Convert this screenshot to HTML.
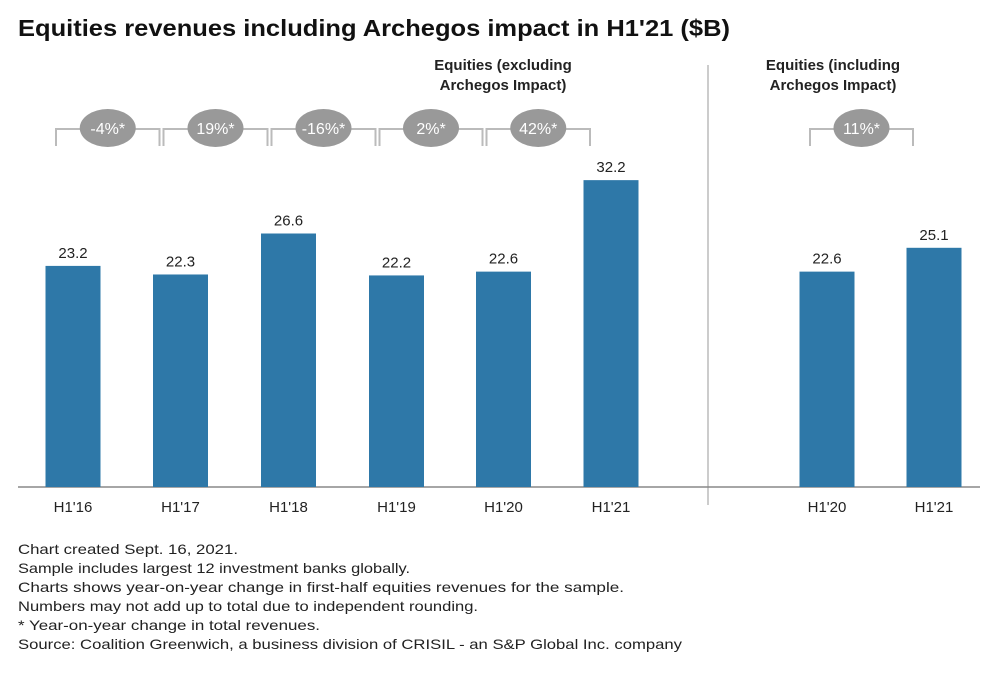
<!DOCTYPE html>
<html><head><meta charset="utf-8"><style>
body{margin:0;background:#fff;font-family:"Liberation Sans",sans-serif}
svg text{font-family:"Liberation Sans",sans-serif}
</style></head><body>
<svg width="994" height="686" xmlns="http://www.w3.org/2000/svg">
<text x="18" y="36" font-size="23" font-weight="bold" fill="#111" textLength="712" lengthAdjust="spacingAndGlyphs">Equities revenues including Archegos impact in H1'21 ($B)</text>
<text x="503" y="70" font-size="15" font-weight="bold" text-anchor="middle" fill="#222">Equities (excluding</text>
<text x="503" y="90" font-size="15" font-weight="bold" text-anchor="middle" fill="#222">Archegos Impact)</text>
<text x="833" y="70" font-size="15" font-weight="bold" text-anchor="middle" fill="#222">Equities (including</text>
<text x="833" y="90" font-size="15" font-weight="bold" text-anchor="middle" fill="#222">Archegos Impact)</text>
<line x1="708" y1="65" x2="708" y2="505" stroke="#bbb" stroke-width="1.5"/>
<line x1="18" y1="487" x2="980" y2="487" stroke="#888" stroke-width="1.5"/>
<g id="marks"></g>
<g font-size="14" fill="#222">
<text x="18" y="554" textLength="220" lengthAdjust="spacingAndGlyphs">Chart created Sept. 16, 2021.</text>
<text x="18" y="573" textLength="392" lengthAdjust="spacingAndGlyphs">Sample includes largest 12 investment banks globally.</text>
<text x="18" y="592" textLength="606" lengthAdjust="spacingAndGlyphs">Charts shows year-on-year change in first-half equities revenues for the sample.</text>
<text x="18" y="611" textLength="460" lengthAdjust="spacingAndGlyphs">Numbers may not add up to total due to independent rounding.</text>
<text x="18" y="630" textLength="302" lengthAdjust="spacingAndGlyphs">* Year-on-year change in total revenues.</text>
<text x="18" y="649" textLength="664" lengthAdjust="spacingAndGlyphs">Source: Coalition Greenwich, a business division of CRISIL - an S&amp;P Global Inc. company</text>
</g>
</svg>
<script>
const categories = ["H1'16","H1'17","H1'18","H1'19","H1'20","H1'21","H1'20","H1'21"];
const values = [23.2,22.3,26.6,22.2,22.6,32.2,22.6,25.1];
const changeLabels = ["-4%*","19%*","-16%*","2%*","42%*",null,"11%*"];
const centers = [73,180.5,288.5,396.5,503.5,611,827,934];
const baseY = 487, pxPerUnit = 9.53, barW = 55;
const yScale = v => baseY - v * pxPerUnit;
const NS = "http://www.w3.org/2000/svg";
const g = document.getElementById('marks');
function mk(tag, attrs, txt){const e=document.createElementNS(NS,tag);for(const k in attrs)e.setAttribute(k,attrs[k]);if(txt!=null)e.textContent=txt;g.appendChild(e);return e;}
values.forEach((v,i)=>{
  const c=centers[i], top=yScale(v);
  const r=mk('rect',{x:c-barW/2,y:top,width:barW,height:baseY-top,fill:'#2e78a8'});
  
  
  const t=mk('text',{x:c,y:top-8,'font-size':15,'text-anchor':'middle',fill:'#222'},v.toFixed(1));
  
  
  const x=mk('text',{x:c,y:512,'font-size':15,'text-anchor':'middle',fill:'#222'},categories[i]);
  
  
});
changeLabels.forEach((lab,i)=>{
  if(!lab) return;
  const x1=centers[i]-17, x2=centers[i+1]-21, y=129;
  const p=mk('path',{d:`M${x1},146 V${y} H${x2} V146`,fill:'none',stroke:'#bbb','stroke-width':2});
  
  
  const mid=(x1+x2)/2;
  const el=mk('ellipse',{cx:mid,cy:128,rx:28,ry:19,fill:'#999'});
  
  
  const t=mk('text',{x:mid,y:134,'font-size':16,'text-anchor':'middle',fill:'#fff'},lab);
  
  
});
</script>
</body></html>
